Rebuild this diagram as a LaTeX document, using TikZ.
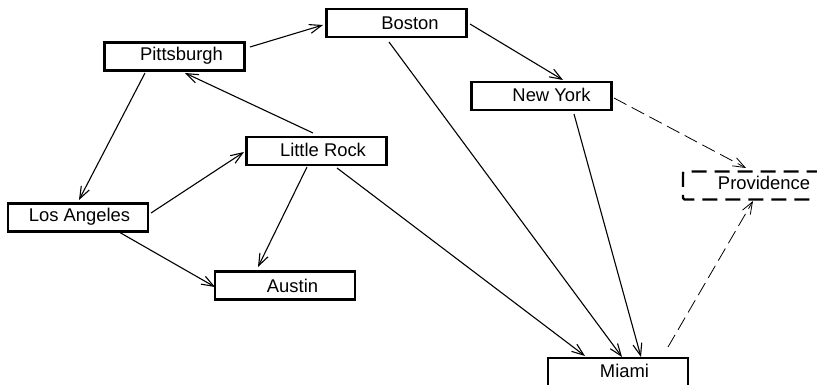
\documentclass[tikz,border=0pt]{standalone}
\usepackage{fontspec}
\setmainfont{Liberation Sans}
\usetikzlibrary{arrows.meta,calc}
\begin{document}
\begin{tikzpicture}[x=1pt,y=-1pt,
  box/.style={draw, line width=2.4pt, minimum width=140pt, minimum height=28pt, inner sep=0pt, outer sep=0pt},
  dbox/.style={box, dash pattern=on 15pt off 8pt, rounded corners=1.5pt},
  lbl/.style={font=\fontsize{18.4}{22}\selectfont, inner sep=0pt, anchor=base},
  edge/.style={line width=1.1pt, -{Straight Barb[length=12pt,width=9pt,line width=1.1pt]}},
  dedge/.style={line width=0.8pt, dash pattern=on 14pt off 6pt, -{Straight Barb[length=12pt,width=9pt,line width=0.8pt]}}]
\useasboundingbox (0,0) rectangle (817,385);
\clip (0,0) rectangle (817,385);
% boxes
\node[box] (boston) at (396.5,23) {};
\node[box] (pitt) at (174.5,56.5) {};
\node[box] (ny) at (541.5,96) {};
\node[box] (lr) at (316.5,151) {};
\node[box] (la) at (78,217.5) {};
\node[box] (austin) at (285,285.5) {};
\node[dbox] (prov) at (753,185.5) {};
\node[box, minimum height=30pt] (miami) at (618,373) {};
% labels
\node[lbl] (boston-t) at (410,30) {Boston};
\node[lbl] (pitt-t) at (181.5,60.7) {Pittsburgh};
\node[lbl] (ny-t) at (551.5,102) {New York};
\node[lbl] (lr-t) at (323,157) {Little Rock};
\node[lbl] (la-t) at (79.5,222) {Los Angeles};
\node[lbl] (austin-t) at (292.5,292) {Austin};
\node[lbl] (prov-t) at (764,189.5) {Providence};
\node[lbl] (miami-t) at (624.5,377) {Miami};
% edges
\draw[edge] ($(pitt)+(75.5,-9.5)$) -- ($(boston)+(-73.5,2)$);
\draw[edge] ($(boston)+(73.5,1)$) -- ($(ny)+(21.5,-16)$);
\draw[edge] ($(boston)+(-7.5,19)$) -- ($(miami)+(4,-16)$);
\draw[edge] ($(ny)+(32.5,18)$) -- ($(miami)+(23,-16)$);
\draw[edge] ($(lr)+(20.5,17)$) -- ($(miami)+(-33,-17)$);
\draw[edge] ($(lr)+(-3.5,-18)$) -- ($(pitt)+(10.5,16.5)$);
\draw[edge] ($(pitt)+(-29.5,16.5)$) -- ($(la)+(1,-17.5)$);
\draw[edge] ($(la)+(73,-4.5)$) -- ($(lr)+(-72.5,1)$);
\draw[edge] ($(la)+(41,14.5)$) -- ($(austin)+(-70,1.5)$);
\draw[edge] ($(lr)+(-9.5,16)$) -- ($(austin)+(-27,-18.5)$);
\draw[dedge] ($(ny)+(72.5,2)$) -- ($(prov)+(-7,-17.5)$);
\draw[dedge] ($(miami)+(50,-26)$) -- ($(prov)+(0,15.5)$);
\end{tikzpicture}
\end{document}
